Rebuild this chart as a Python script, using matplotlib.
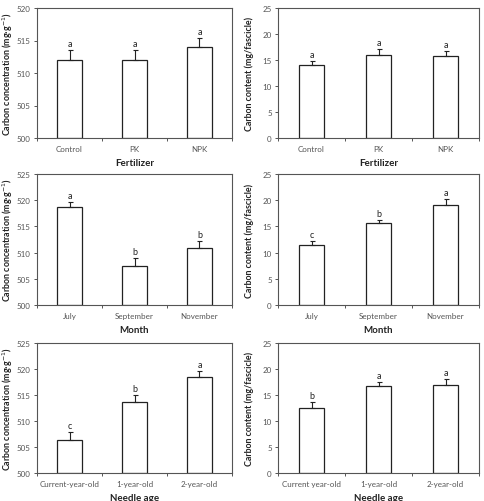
import matplotlib
matplotlib.use("Agg")
import matplotlib.pyplot as plt
import numpy as np

plt.rcParams['font.family'] = ['Lato', 'DejaVu Sans']

# Data
fert_cats = ['Control', 'PK', 'NPK']
fert_conc = [512.0, 512.0, 514.0]
fert_conc_err = [1.5, 1.5, 1.4]
fert_conc_let = ['a', 'a', 'a']
fert_cont = [14.0, 16.0, 15.8]
fert_cont_err = [0.8, 1.1, 0.9]
fert_cont_let = ['a', 'a', 'a']

month_cats = ['July', 'September', 'November']
month_conc = [518.7, 507.5, 510.9]
month_conc_err = [1.0, 1.4, 1.4]
month_conc_let = ['a', 'b', 'b']
month_cont = [11.5, 15.7, 19.1]
month_cont_err = [0.75, 0.5, 1.2]
month_cont_let = ['c', 'b', 'a']

age_cats_left = ['Current-year-old', '1-year-old', '2-year-old']
age_cats_right = ['Current year-old', '1-year-old', '2-year-old']
age_conc = [506.4, 513.7, 518.4]
age_conc_err = [1.4, 1.3, 1.3]
age_conc_let = ['c', 'b', 'a']
age_cont = [12.56, 16.7, 17.0]
age_cont_err = [1.1, 0.8, 1.0]
age_cont_let = ['b', 'a', 'a']

conc_label = 'Carbon concentration (mg·g$^{-1}$)'
cont_label = 'Carbon content (mg/fascicle)'

W, H = 484, 502
fig = plt.figure(figsize=(W / 100, H / 100), dpi=100)


def add_axes(x0, y0, x1, y1):
    return fig.add_axes([x0 / W, 1 - y1 / H, (x1 - x0) / W, (y1 - y0) / H])


def panel(ax, cats, vals, errs, letters, ylim, ystep, ylabel, xlabel, ylx):
    x = np.arange(len(cats))
    base = ylim[0]
    heights = np.array(vals) - base
    ax.bar(x, heights, bottom=base, width=0.38, color='white',
           edgecolor='#222222', linewidth=0.9, zorder=2)
    ax.errorbar(x, vals, yerr=[np.zeros(len(vals)), errs], fmt='none',
                ecolor='#222222', elinewidth=0.8, capsize=1.8, capthick=0.8, zorder=3)
    rng = ylim[1] - ylim[0]
    for xi, v, e, l in zip(x, vals, errs, letters):
        ax.text(xi, v + e + rng * 0.015, l, ha='center', va='bottom',
                fontsize=6.5, color='#222222')
    ax.set_xlim(-0.5, len(cats) - 0.5)
    ax.set_ylim(*ylim)
    ax.set_yticks(np.arange(ylim[0], ylim[1] + 0.1, ystep))
    ax.set_xticks(np.arange(-0.5, len(cats), 1.0))
    ax.set_xticklabels([])
    ax.set_xticks(x, minor=True)
    ax.set_xticklabels(cats, minor=True)
    ax.tick_params(axis='x', which='minor', length=0, pad=5)
    ax.tick_params(axis='y', which='major', pad=2)
    ax.tick_params(axis='both', which='major', length=2.5, width=0.7,
                   color='#555555', direction='out')
    ax.tick_params(axis='both', which='both', labelsize=5.8, labelcolor='#555555')
    for s in ax.spines.values():
        s.set_color('#555555')
        s.set_linewidth(0.8)
    ax.set_ylabel(ylabel, fontsize=6.4, fontweight='bold', color='#222222', va='center')
    ax.yaxis.set_label_coords(ylx, 0.5)
    ax.set_xlabel(xlabel, fontsize=7, fontweight='bold', color='#222222', va='center')
    ax.xaxis.set_label_coords(0.5, -0.185)


rows = [(9, 139), (175, 306), (344, 474)]
lx = (37, 232)
rx = (278, 479)
lyl = -0.15
ryl = -0.145

ax = add_axes(lx[0], rows[0][0], lx[1], rows[0][1])
panel(ax, fert_cats, fert_conc, fert_conc_err, fert_conc_let, (500, 520), 5, conc_label, 'Fertilizer', lyl)
ax = add_axes(rx[0], rows[0][0], rx[1], rows[0][1])
panel(ax, fert_cats, fert_cont, fert_cont_err, fert_cont_let, (0, 25), 5, cont_label, 'Fertilizer', ryl)

ax = add_axes(lx[0], rows[1][0], lx[1], rows[1][1])
panel(ax, month_cats, month_conc, month_conc_err, month_conc_let, (500, 525), 5, conc_label, 'Month', lyl)
ax = add_axes(rx[0], rows[1][0], rx[1], rows[1][1])
panel(ax, month_cats, month_cont, month_cont_err, month_cont_let, (0, 25), 5, cont_label, 'Month', ryl)

ax = add_axes(lx[0], rows[2][0], lx[1], rows[2][1])
panel(ax, age_cats_left, age_conc, age_conc_err, age_conc_let, (500, 525), 5, conc_label, 'Needle age', lyl)
ax = add_axes(rx[0], rows[2][0], rx[1], rows[2][1])
panel(ax, age_cats_right, age_cont, age_cont_err, age_cont_let, (0, 25), 5, cont_label, 'Needle age', ryl)

fig.savefig('out.png', dpi=100)
